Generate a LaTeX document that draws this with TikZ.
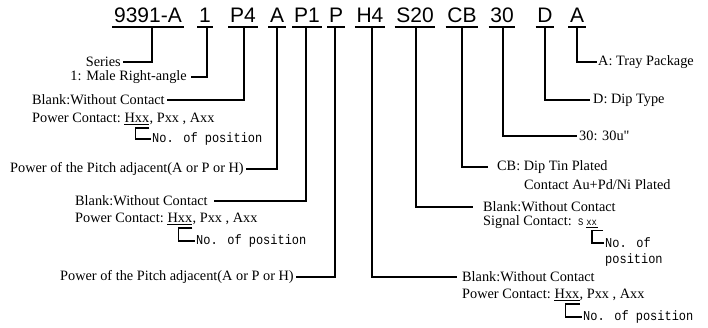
\documentclass[tikz,border=0pt]{standalone}
\usepackage{fontspec}
\setmainfont{Liberation Serif}
\newfontfamily\codefont{Liberation Sans}
\newfontfamily\monofont[FakeStretch=0.88]{Liberation Mono}
\newfontfamily\rawserif[Ligatures=TeXOff]{Liberation Serif}
\begin{document}
\begin{tikzpicture}[x=1pt,y=-1pt,
  code/.style={font=\codefont\fontsize{21}{21}\selectfont, inner sep=0pt, anchor=base},
  lab/.style={font=\fontsize{14.3}{15}\selectfont, inner sep=0pt},
  mono/.style={font=\monofont\fontsize{13.6}{14}\selectfont, inner sep=0pt},
  smallmono/.style={font=\monofont\fontsize{10}{10}\selectfont, inner sep=0pt},
  conn/.style={line width=1.8pt},
  uline/.style={line width=1.2pt},
  thinline/.style={line width=0.6pt},
  brk/.style={line width=1.8pt}]
\useasboundingbox (0,0) rectangle (708,327);
% code row
\node[code] (c1) at (148,22.5) {9391-A};
\node[code] (c2) at (205,22.5) {1};
\node[code] (c3) at (243,22.5) {P4};
\node[code] (c4) at (277,22.5) {A};
\node[code] (c5) at (307,22.5) {P1};
\node[code] (c6) at (336,22.5) {P};
\node[code] (c7) at (370,22.5) {H4};
\node[code] (c8) at (415,22.5) {S20};
\node[code] (c9) at (462,22.5) {CB};
\node[code] (c10) at (502,22.5) {30};
\node[code] (c11) at (545,22.5) {D};
\node[code] (c12) at (577,22.5) {A};
\foreach \c in {c1,c2,c3,c4,c5,c6,c7,c8,c9,c10,c11,c12}
  \draw[uline] ([xshift=-1.5pt,yshift=-4.5pt]\c.base west) -- ([xshift=1.5pt,yshift=-4.5pt]\c.base east);

% left labels
\node[lab,anchor=east] (series) at (121,62) {Series};
\node[lab,anchor=east] (male) at (187,77) {1: Male Right-angle};
\node[lab,anchor=west] (blank1) at (32,100) {Blank:Without Contact};
\node[lab,anchor=west] (pc1) at (32,118) {Power Contact:};
\node[lab,anchor=base west] (hx1) at ([xshift=3.5pt]pc1.base east) {Hxx};
\node[lab,anchor=base west] (rs1) at (hx1.base east) {, Pxx , Axx};
\node[mono,anchor=west] (np1) at (152,139) {No. of position};
\node[lab,anchor=west] (pitch1) at (10,169) {Power of the Pitch adjacent(A or P or H)};
\node[lab,anchor=west] (blank2) at (75,201) {Blank:Without Contact};
\node[lab,anchor=west] (pc2) at (75,218) {Power Contact:};
\node[lab,anchor=base west] (hx2) at ([xshift=3.5pt]pc2.base east) {Hxx};
\node[lab,anchor=base west] (rs2) at (hx2.base east) {, Pxx , Axx};
\node[mono,anchor=west] (np2) at (196,241) {No. of position};
\node[lab,anchor=west] (pitch2) at (60,277) {Power of the Pitch adjacent(A or P or H)};

% right labels
\node[lab,anchor=west] (tray) at (598,62) {A: Tray Package};
\node[lab,anchor=west] (dip) at (593,100) {D: Dip Type};
\node[lab,anchor=west] (thirty) at (579,136) {30: 30u{\rawserif"}};
\node[lab,anchor=west] (cb) at (497,167) {CB: Dip Tin Plated};
\node[lab,anchor=west] (au) at (524,185) {Contact Au+Pd/Ni Plated};
\node[lab,anchor=west] (blank4) at (483,207) {Blank:Without Contact};
\node[lab,anchor=west] (sig) at (483,222) {Signal Contact:};
\node[smallmono,anchor=base west] (ss) at ([xshift=6pt]sig.base east) {S};
\node[smallmono,anchor=base west] (sx) at ([xshift=2.5pt]ss.base east) {xx};
\node[mono,anchor=west] (no4) at (605,243) {No. of};
\node[mono,anchor=west] (pos4) at (605,260) {position};
\node[lab,anchor=west] (blank3) at (462,277) {Blank:Without Contact};
\node[lab,anchor=west] (pc3) at (462,294) {Power Contact:};
\node[lab,anchor=base west] (hx3) at ([xshift=3.5pt]pc3.base east) {Hxx};
\node[lab,anchor=base west] (rs3) at (hx3.base east) {, Pxx , Axx};
\node[mono,anchor=west] (np3) at (583,317) {No. of position};

% connectors
\draw[conn] ([xshift=4pt,yshift=-4.5pt]c1.base) |- ([xshift=2pt]series.east);
\draw[conn] ([xshift=2pt,yshift=-4.5pt]c2.base) |- ([xshift=4pt]male.east);
\draw[conn] ([xshift=1pt,yshift=-4.5pt]c3.base) |- ([xshift=2pt]blank1.east);
\draw[conn] ([yshift=-4.5pt]c4.base) |- ([xshift=2pt]pitch1.east);
\draw[conn] ([xshift=-1pt,yshift=-4.5pt]c5.base) |- ([xshift=6pt]blank2.east);
\draw[conn] ([xshift=-1pt,yshift=-4.5pt]c6.base) |- ([xshift=2pt]pitch2.east);
\draw[conn] ([xshift=2pt,yshift=-4.5pt]c7.base) |- ([xshift=-5pt]blank3.west);
\draw[conn] ([xshift=1pt,yshift=-4.5pt]c8.base) |- ([xshift=-10pt]blank4.west);
\draw[conn] ([yshift=-4.5pt]c9.base) |- ([xshift=-9pt]cb.west);
\draw[conn] ([xshift=1pt,yshift=-4.5pt]c10.base) |- ([xshift=-2pt]thirty.west);
\draw[conn] ([yshift=-4.5pt]c11.base) |- ([xshift=-3pt]dip.west);
\draw[conn] ([yshift=-4.5pt]c12.base) |- ([xshift=-1pt]tray.west);

% Hxx underlines and brackets
\foreach \h/\n in {hx1/np1,hx2/np2,hx3/np3}{
  \draw[thinline] ([yshift=-1.8pt]\h.base west) -- ([yshift=-1.8pt]\h.base east);
  \draw[brk] ([yshift=-5pt]\h.base east) -- ([xshift=-14pt,yshift=-5pt]\h.base east) |- ([xshift=-1pt]\n.west);
}
\draw[thinline] ([yshift=-1.8pt]sx.base west) -- ([yshift=-1.8pt,xshift=1pt]sx.base east);
\draw[brk] ([xshift=6pt,yshift=-5pt]sx.base east) -- ([xshift=-5pt,yshift=-5pt]sx.base east) |- ([xshift=-1pt]no4.west);
\end{tikzpicture}
\end{document}
